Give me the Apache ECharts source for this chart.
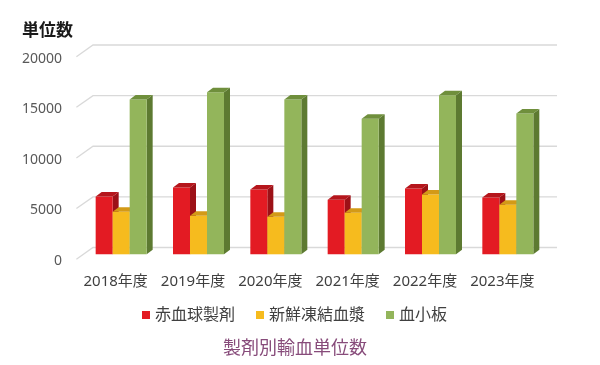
<!DOCTYPE html>
<html>
<head>
<meta charset="utf-8">
<script src="https://cdn.jsdelivr.net/npm/echarts@6/dist/echarts.min.js"></script>
<style>
html,body{margin:0;padding:0;background:#fff;}
#chart{width:600px;height:365px;}
</style>
</head>
<body>
<div id="chart"></div>
<script>
const categories = ['2018年度', '2019年度', '2020年度', '2021年度', '2022年度', '2023年度'];
const seriesNames = ['赤血球製剤', '新鮮凍結血漿', '血小板'];
const redCells = [5700, 6600, 6400, 5400, 6500, 5600];
const plasma = [4200, 3800, 3700, 4100, 5900, 4900];
const platelets = [15300, 16000, 15300, 13400, 15700, 13900];
const yTicks = [0, 5000, 10000, 15000, 20000];
const yMax = 20000;
const yInterval = 5000;

const FONT = "'Noto Sans', 'Noto Sans CJK JP', sans-serif";
const BAR_W = 17;
const GROUP_SHIFT = -10.5;
const FRONT_DY = 6.8;
const DX = 6, DY = 4.5;
const DIAG_DX = 16.6, DIAG_DY = 11.7;

const palettes = [
  {front: '#e31b23', top: '#b5161c', side: '#9c1117'},
  {front: '#f6bb1e', top: '#d39a17', side: '#b98414'},
  {front: '#93b55b', top: '#6f8f3c', side: '#5d7a31'}
];
const valueSets = [redCells, plasma, platelets];

function makeRender(k) {
  const p = palettes[k];
  return function (params, api) {
    const c = api.coord([api.value(0), api.value(1)]);
    const b = api.coord([api.value(0), 0]);
    const x0 = c[0] + GROUP_SHIFT + (k - 1) * BAR_W - BAR_W / 2;
    const x1 = x0 + BAR_W;
    const yt = c[1] + FRONT_DY;
    const yb = b[1] + FRONT_DY;
    return {
      type: 'group',
      children: [
        {type: 'polygon', shape: {points: [[x1, yt], [x1 + DX, yt - DY], [x1 + DX, yb - DY], [x1, yb]]}, style: {fill: p.side}},
        {type: 'rect', shape: {x: x0, y: yt, width: BAR_W, height: yb - yt}, style: {fill: p.front}},
        {type: 'polygon', shape: {points: [[x0, yt], [x1, yt], [x1 + DX, yt - DY], [x0 + DX, yt - DY]]}, style: {fill: p.top}}
      ]
    };
  };
}

const barSeries = seriesNames.map((name, k) => ({
  name: name,
  type: 'custom',
  xAxisIndex: 0,
  yAxisIndex: 0,
  renderItem: makeRender(k),
  encode: {x: 0, y: 1},
  itemStyle: {color: palettes[k].front},
  data: categories.map((c, i) => [i, valueSets[k][i]]),
  z: 3 + k
}));

const gridSeries = {
  name: 'grid',
  type: 'custom',
  xAxisIndex: 0,
  yAxisIndex: 0,
  silent: true,
  z: 1,
  renderItem: function (params, api) {
    const cs = params.coordSys;
    const y = api.coord([0, api.value(1)])[1];
    return {
      type: 'polyline',
      shape: {points: [[cs.x - DIAG_DX, y + DIAG_DY], [cs.x, y], [cs.x + cs.width, y]]},
      style: {stroke: '#d9d9d9', lineWidth: 1.3, fill: null}
    };
  },
  encode: {x: 0, y: 1},
  data: yTicks.map(t => [0, t])
};

const chart = echarts.init(document.getElementById('chart'), null, {renderer: 'canvas'});
chart.setOption({
  animation: false,
  backgroundColor: '#ffffff',
  textStyle: {fontFamily: FONT},
  title: [
    {text: '単位数', left: 17, top: 18, textStyle: {fontFamily: FONT, fontSize: 17, fontWeight: 'bold', color: '#1a1a1a'}},
    {text: '製剤別輸血単位数', left: 290, top: 335, textAlign: 'center', textStyle: {fontFamily: FONT, fontSize: 18, fontWeight: 'normal', color: '#874b7a'}}
  ],
  legend: {
    data: seriesNames,
    left: 137,
    top: 302,
    icon: 'rect',
    itemWidth: 8,
    itemHeight: 8,
    itemGap: 21,
    textStyle: {fontFamily: FONT, fontSize: 16, color: '#404040'}
  },
  grid: [
    {left: 93, right: 43, top: 45, bottom: 117.5},
    {left: 77, right: 59, top: 59, bottom: 104}
  ],
  xAxis: [
    {
      gridIndex: 0, type: 'category', data: categories,
      axisLine: {show: false}, axisTick: {show: false}, splitLine: {show: false},
      axisLabel: {interval: 0, hideOverlap: false, fontFamily: FONT, fontSize: 15, color: '#404040', margin: 27, padding: [0, 32, 0, 0]}
    },
    {gridIndex: 1, type: 'category', data: categories, show: false}
  ],
  yAxis: [
    {
      gridIndex: 0, type: 'value', min: 0, max: yMax, interval: yInterval,
      axisLine: {show: false}, axisTick: {show: false}, splitLine: {show: false}, axisLabel: {show: false}
    },
    {
      gridIndex: 1, type: 'value', min: 0, max: yMax, interval: yInterval,
      axisLine: {show: false}, axisTick: {show: false}, splitLine: {show: false},
      axisLabel: {fontFamily: FONT, fontSize: 14, color: '#595959', margin: 15, formatter: function (v) { return String(v); }}
    }
  ],
  series: [gridSeries].concat(barSeries)
});
</script>
</body>
</html>
